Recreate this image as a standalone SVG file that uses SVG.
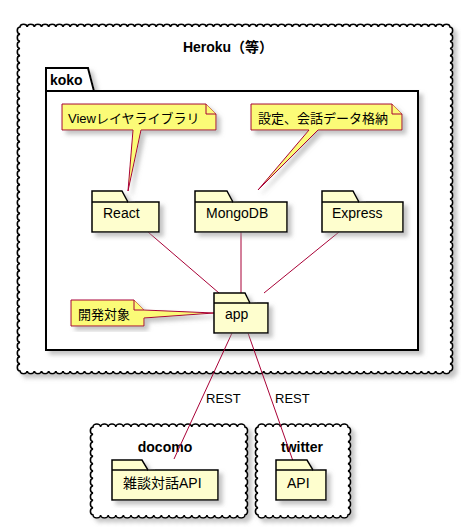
<svg xmlns="http://www.w3.org/2000/svg" width="461" height="527" viewBox="0 0 461 527">
<style>
text{font-family:"Liberation Sans","Noto Sans CJK JP",sans-serif;fill:#000}
.t{font-size:14px;font-weight:bold}
.n{font-size:14px}
.s{font-size:13px}
.cloud{fill:#fff;stroke:#000;stroke-width:1.6}
.fold{fill:#FEFECE;stroke:#000;stroke-width:1.5}
.note{fill:#FBFB77;stroke:#A80036;stroke-width:1}
.e{stroke:#A80036;stroke-width:1;fill:none}
</style>
<defs>
<filter id="sh" x="-10%" y="-10%" width="130%" height="130%">
<feGaussianBlur in="SourceAlpha" stdDeviation="2" result="b"/>
<feOffset in="b" dx="4" dy="4" result="o"/>
<feColorMatrix in="o" type="matrix" values="0 0 0 0 0.3 0 0 0 0 0.3 0 0 0 0 0.3 0 0 0 0.55 0" result="c"/>
<feMerge><feMergeNode in="c"/><feMergeNode in="SourceGraphic"/></feMerge>
</filter>
</defs>

<g id="heroku">
<path class="cloud" filter="url(#sh)" d="M20,27
a3.6 3 0 0 1 7.1667 0 3.6 3 0 0 1 7.1667 0 3.6 3 0 0 1 7.1667 0 3.6 3 0 0 1 7.1667 0 3.6 3 0 0 1 7.1667 0 3.6 3 0 0 1 7.1667 0 3.6 3 0 0 1 7.1667 0 3.6 3 0 0 1 7.1667 0 3.6 3 0 0 1 7.1667 0 3.6 3 0 0 1 7.1667 0
3.6 3 0 0 1 7.1667 0 3.6 3 0 0 1 7.1667 0 3.6 3 0 0 1 7.1667 0 3.6 3 0 0 1 7.1667 0 3.6 3 0 0 1 7.1667 0 3.6 3 0 0 1 7.1667 0 3.6 3 0 0 1 7.1667 0 3.6 3 0 0 1 7.1667 0 3.6 3 0 0 1 7.1667 0 3.6 3 0 0 1 7.1667 0
3.6 3 0 0 1 7.1667 0 3.6 3 0 0 1 7.1667 0 3.6 3 0 0 1 7.1667 0 3.6 3 0 0 1 7.1667 0 3.6 3 0 0 1 7.1667 0 3.6 3 0 0 1 7.1667 0 3.6 3 0 0 1 7.1667 0 3.6 3 0 0 1 7.1667 0 3.6 3 0 0 1 7.1667 0 3.6 3 0 0 1 7.1667 0
3.6 3 0 0 1 7.1667 0 3.6 3 0 0 1 7.1667 0 3.6 3 0 0 1 7.1667 0 3.6 3 0 0 1 7.1667 0 3.6 3 0 0 1 7.1667 0 3.6 3 0 0 1 7.1667 0 3.6 3 0 0 1 7.1667 0 3.6 3 0 0 1 7.1667 0 3.6 3 0 0 1 7.1667 0 3.6 3 0 0 1 7.1667 0
3.6 3 0 0 1 7.1667 0 3.6 3 0 0 1 7.1667 0 3.6 3 0 0 1 7.1667 0 3.6 3 0 0 1 7.1667 0 3.6 3 0 0 1 7.1667 0 3.6 3 0 0 1 7.1667 0 3.6 3 0 0 1 7.1667 0 3.6 3 0 0 1 7.1667 0 3.6 3 0 0 1 7.1667 0 3.6 3 0 0 1 7.1667 0
3.6 3 0 0 1 7.1667 0 3.6 3 0 0 1 7.1667 0 3.6 3 0 0 1 7.1667 0 3.6 3 0 0 1 7.1667 0 3.6 3 0 0 1 7.1667 0 3.6 3 0 0 1 7.1667 0 3.6 3 0 0 1 7.1667 0 3.6 3 0 0 1 7.1667 0 3.6 3 0 0 1 7.1667 0 3.6 3 0 0 1 7.1667 0
a3 3.6 0 0 1 0 7.1667 3 3.6 0 0 1 0 7.1667 3 3.6 0 0 1 0 7.1667 3 3.6 0 0 1 0 7.1667 3 3.6 0 0 1 0 7.1667 3 3.6 0 0 1 0 7.1667 3 3.6 0 0 1 0 7.1667 3 3.6 0 0 1 0 7.1667 3 3.6 0 0 1 0 7.1667 3 3.6 0 0 1 0 7.1667
3 3.6 0 0 1 0 7.1667 3 3.6 0 0 1 0 7.1667 3 3.6 0 0 1 0 7.1667 3 3.6 0 0 1 0 7.1667 3 3.6 0 0 1 0 7.1667 3 3.6 0 0 1 0 7.1667 3 3.6 0 0 1 0 7.1667 3 3.6 0 0 1 0 7.1667 3 3.6 0 0 1 0 7.1667 3 3.6 0 0 1 0 7.1667
3 3.6 0 0 1 0 7.1667 3 3.6 0 0 1 0 7.1667 3 3.6 0 0 1 0 7.1667 3 3.6 0 0 1 0 7.1667 3 3.6 0 0 1 0 7.1667 3 3.6 0 0 1 0 7.1667 3 3.6 0 0 1 0 7.1667 3 3.6 0 0 1 0 7.1667 3 3.6 0 0 1 0 7.1667 3 3.6 0 0 1 0 7.1667
3 3.6 0 0 1 0 7.1667 3 3.6 0 0 1 0 7.1667 3 3.6 0 0 1 0 7.1667 3 3.6 0 0 1 0 7.1667 3 3.6 0 0 1 0 7.1667 3 3.6 0 0 1 0 7.1667 3 3.6 0 0 1 0 7.1667 3 3.6 0 0 1 0 7.1667 3 3.6 0 0 1 0 7.1667 3 3.6 0 0 1 0 7.1667
3 3.6 0 0 1 0 7.1667 3 3.6 0 0 1 0 7.1667 3 3.6 0 0 1 0 7.1667 3 3.6 0 0 1 0 7.1667 3 3.6 0 0 1 0 7.1667 3 3.6 0 0 1 0 7.1667 3 3.6 0 0 1 0 7.1667 3 3.6 0 0 1 0 7.1667
a3.6 3 0 0 1 -7.1667 0 3.6 3 0 0 1 -7.1667 0 3.6 3 0 0 1 -7.1667 0 3.6 3 0 0 1 -7.1667 0 3.6 3 0 0 1 -7.1667 0 3.6 3 0 0 1 -7.1667 0 3.6 3 0 0 1 -7.1667 0 3.6 3 0 0 1 -7.1667 0 3.6 3 0 0 1 -7.1667 0 3.6 3 0 0 1 -7.1667 0
3.6 3 0 0 1 -7.1667 0 3.6 3 0 0 1 -7.1667 0 3.6 3 0 0 1 -7.1667 0 3.6 3 0 0 1 -7.1667 0 3.6 3 0 0 1 -7.1667 0 3.6 3 0 0 1 -7.1667 0 3.6 3 0 0 1 -7.1667 0 3.6 3 0 0 1 -7.1667 0 3.6 3 0 0 1 -7.1667 0 3.6 3 0 0 1 -7.1667 0
3.6 3 0 0 1 -7.1667 0 3.6 3 0 0 1 -7.1667 0 3.6 3 0 0 1 -7.1667 0 3.6 3 0 0 1 -7.1667 0 3.6 3 0 0 1 -7.1667 0 3.6 3 0 0 1 -7.1667 0 3.6 3 0 0 1 -7.1667 0 3.6 3 0 0 1 -7.1667 0 3.6 3 0 0 1 -7.1667 0 3.6 3 0 0 1 -7.1667 0
3.6 3 0 0 1 -7.1667 0 3.6 3 0 0 1 -7.1667 0 3.6 3 0 0 1 -7.1667 0 3.6 3 0 0 1 -7.1667 0 3.6 3 0 0 1 -7.1667 0 3.6 3 0 0 1 -7.1667 0 3.6 3 0 0 1 -7.1667 0 3.6 3 0 0 1 -7.1667 0 3.6 3 0 0 1 -7.1667 0 3.6 3 0 0 1 -7.1667 0
3.6 3 0 0 1 -7.1667 0 3.6 3 0 0 1 -7.1667 0 3.6 3 0 0 1 -7.1667 0 3.6 3 0 0 1 -7.1667 0 3.6 3 0 0 1 -7.1667 0 3.6 3 0 0 1 -7.1667 0 3.6 3 0 0 1 -7.1667 0 3.6 3 0 0 1 -7.1667 0 3.6 3 0 0 1 -7.1667 0 3.6 3 0 0 1 -7.1667 0
3.6 3 0 0 1 -7.1667 0 3.6 3 0 0 1 -7.1667 0 3.6 3 0 0 1 -7.1667 0 3.6 3 0 0 1 -7.1667 0 3.6 3 0 0 1 -7.1667 0 3.6 3 0 0 1 -7.1667 0 3.6 3 0 0 1 -7.1667 0 3.6 3 0 0 1 -7.1667 0 3.6 3 0 0 1 -7.1667 0 3.6 3 0 0 1 -7.1667 0
a3 3.6 0 0 1 0 -7.1667 3 3.6 0 0 1 0 -7.1667 3 3.6 0 0 1 0 -7.1667 3 3.6 0 0 1 0 -7.1667 3 3.6 0 0 1 0 -7.1667 3 3.6 0 0 1 0 -7.1667 3 3.6 0 0 1 0 -7.1667 3 3.6 0 0 1 0 -7.1667 3 3.6 0 0 1 0 -7.1667 3 3.6 0 0 1 0 -7.1667
3 3.6 0 0 1 0 -7.1667 3 3.6 0 0 1 0 -7.1667 3 3.6 0 0 1 0 -7.1667 3 3.6 0 0 1 0 -7.1667 3 3.6 0 0 1 0 -7.1667 3 3.6 0 0 1 0 -7.1667 3 3.6 0 0 1 0 -7.1667 3 3.6 0 0 1 0 -7.1667 3 3.6 0 0 1 0 -7.1667 3 3.6 0 0 1 0 -7.1667
3 3.6 0 0 1 0 -7.1667 3 3.6 0 0 1 0 -7.1667 3 3.6 0 0 1 0 -7.1667 3 3.6 0 0 1 0 -7.1667 3 3.6 0 0 1 0 -7.1667 3 3.6 0 0 1 0 -7.1667 3 3.6 0 0 1 0 -7.1667 3 3.6 0 0 1 0 -7.1667 3 3.6 0 0 1 0 -7.1667 3 3.6 0 0 1 0 -7.1667
3 3.6 0 0 1 0 -7.1667 3 3.6 0 0 1 0 -7.1667 3 3.6 0 0 1 0 -7.1667 3 3.6 0 0 1 0 -7.1667 3 3.6 0 0 1 0 -7.1667 3 3.6 0 0 1 0 -7.1667 3 3.6 0 0 1 0 -7.1667 3 3.6 0 0 1 0 -7.1667 3 3.6 0 0 1 0 -7.1667 3 3.6 0 0 1 0 -7.1667
3 3.6 0 0 1 0 -7.1667 3 3.6 0 0 1 0 -7.1667 3 3.6 0 0 1 0 -7.1667 3 3.6 0 0 1 0 -7.1667 3 3.6 0 0 1 0 -7.1667 3 3.6 0 0 1 0 -7.1667 3 3.6 0 0 1 0 -7.1667 3 3.6 0 0 1 0 -7.1667 Z"/>
<text class="t" x="228" y="52" text-anchor="middle">Heroku（等）</text>
</g>

<g id="koko">
<path d="M46,68 L88,68 L94,91 L418,91 L418,350 L46,350 Z" fill="#fff" stroke="#000" stroke-width="2" filter="url(#sh)"/>
<line x1="46" y1="91" x2="94" y2="91" stroke="#000" stroke-width="2"/>
<text class="t" x="50" y="85">koko</text>
</g>

<g id="docomo">
<path class="cloud" filter="url(#sh)" d="M93,427
a3.8 3 0 0 1 7.6 0 3.8 3 0 0 1 7.6 0 3.8 3 0 0 1 7.6 0 3.8 3 0 0 1 7.6 0 3.8 3 0 0 1 7.6 0 3.8 3 0 0 1 7.6 0 3.8 3 0 0 1 7.6 0 3.8 3 0 0 1 7.6 0 3.8 3 0 0 1 7.6 0 3.8 3 0 0 1 7.6 0
3.8 3 0 0 1 7.6 0 3.8 3 0 0 1 7.6 0 3.8 3 0 0 1 7.6 0 3.8 3 0 0 1 7.6 0 3.8 3 0 0 1 7.6 0 3.8 3 0 0 1 7.6 0 3.8 3 0 0 1 7.6 0 3.8 3 0 0 1 7.6 0 3.8 3 0 0 1 7.6 0 3.8 3 0 0 1 7.6 0
a3 3.7 0 0 1 0 7.3333 3 3.7 0 0 1 0 7.3333 3 3.7 0 0 1 0 7.3333 3 3.7 0 0 1 0 7.3333 3 3.7 0 0 1 0 7.3333 3 3.7 0 0 1 0 7.3333 3 3.7 0 0 1 0 7.3333 3 3.7 0 0 1 0 7.3333 3 3.7 0 0 1 0 7.3333 3 3.7 0 0 1 0 7.3333 3 3.7 0 0 1 0 7.3333 3 3.7 0 0 1 0 7.3333
a3.8 3 0 0 1 -7.6 0 3.8 3 0 0 1 -7.6 0 3.8 3 0 0 1 -7.6 0 3.8 3 0 0 1 -7.6 0 3.8 3 0 0 1 -7.6 0 3.8 3 0 0 1 -7.6 0 3.8 3 0 0 1 -7.6 0 3.8 3 0 0 1 -7.6 0 3.8 3 0 0 1 -7.6 0 3.8 3 0 0 1 -7.6 0
3.8 3 0 0 1 -7.6 0 3.8 3 0 0 1 -7.6 0 3.8 3 0 0 1 -7.6 0 3.8 3 0 0 1 -7.6 0 3.8 3 0 0 1 -7.6 0 3.8 3 0 0 1 -7.6 0 3.8 3 0 0 1 -7.6 0 3.8 3 0 0 1 -7.6 0 3.8 3 0 0 1 -7.6 0 3.8 3 0 0 1 -7.6 0
a3 3.7 0 0 1 0 -7.3333 3 3.7 0 0 1 0 -7.3333 3 3.7 0 0 1 0 -7.3333 3 3.7 0 0 1 0 -7.3333 3 3.7 0 0 1 0 -7.3333 3 3.7 0 0 1 0 -7.3333 3 3.7 0 0 1 0 -7.3333 3 3.7 0 0 1 0 -7.3333 3 3.7 0 0 1 0 -7.3333 3 3.7 0 0 1 0 -7.3333 3 3.7 0 0 1 0 -7.3333 3 3.7 0 0 1 0 -7.3333 Z"/>
<text class="t" x="165" y="452" text-anchor="middle">docomo</text>
</g>

<g id="twitter">
<path class="cloud" filter="url(#sh)" d="M258,427
a3.75 3 0 0 1 7.5 0 3.75 3 0 0 1 7.5 0 3.75 3 0 0 1 7.5 0 3.75 3 0 0 1 7.5 0 3.75 3 0 0 1 7.5 0 3.75 3 0 0 1 7.5 0 3.75 3 0 0 1 7.5 0 3.75 3 0 0 1 7.5 0 3.75 3 0 0 1 7.5 0 3.75 3 0 0 1 7.5 0 3.75 3 0 0 1 7.5 0 3.75 3 0 0 1 7.5 0
a3 3.7 0 0 1 0 7.3333 3 3.7 0 0 1 0 7.3333 3 3.7 0 0 1 0 7.3333 3 3.7 0 0 1 0 7.3333 3 3.7 0 0 1 0 7.3333 3 3.7 0 0 1 0 7.3333 3 3.7 0 0 1 0 7.3333 3 3.7 0 0 1 0 7.3333 3 3.7 0 0 1 0 7.3333 3 3.7 0 0 1 0 7.3333 3 3.7 0 0 1 0 7.3333 3 3.7 0 0 1 0 7.3333
a3.75 3 0 0 1 -7.5 0 3.75 3 0 0 1 -7.5 0 3.75 3 0 0 1 -7.5 0 3.75 3 0 0 1 -7.5 0 3.75 3 0 0 1 -7.5 0 3.75 3 0 0 1 -7.5 0 3.75 3 0 0 1 -7.5 0 3.75 3 0 0 1 -7.5 0 3.75 3 0 0 1 -7.5 0 3.75 3 0 0 1 -7.5 0 3.75 3 0 0 1 -7.5 0 3.75 3 0 0 1 -7.5 0
a3 3.7 0 0 1 0 -7.3333 3 3.7 0 0 1 0 -7.3333 3 3.7 0 0 1 0 -7.3333 3 3.7 0 0 1 0 -7.3333 3 3.7 0 0 1 0 -7.3333 3 3.7 0 0 1 0 -7.3333 3 3.7 0 0 1 0 -7.3333 3 3.7 0 0 1 0 -7.3333 3 3.7 0 0 1 0 -7.3333 3 3.7 0 0 1 0 -7.3333 3 3.7 0 0 1 0 -7.3333 3 3.7 0 0 1 0 -7.3333 Z"/>
<text class="t" x="302" y="452" text-anchor="middle">twitter</text>
</g>

<g id="note-view">
<path class="note" filter="url(#sh)" d="M62,104 L206,104 L216,114 L216,130 L141,130 L128,191 L133,130 L62,130 Z"/>
<path class="note" d="M206,104 L206,114 L216,114"/>
<text class="s" x="68" y="123">Viewレイヤライブラリ</text>
</g>

<g id="note-store">
<path class="note" filter="url(#sh)" d="M251,104 L392,104 L402,114 L402,130 L318,130 L258,190 L309,130 L251,130 Z"/>
<path class="note" d="M392,104 L392,114 L402,114"/>
<text class="s" x="258" y="123">設定、会話データ格納</text>
</g>

<g id="note-target">
<path class="note" filter="url(#sh)" d="M71,300 L134,300 L144,310 L214,313 L144,318 L144,326 L71,326 Z"/>
<path class="note" d="M134,300 L134,310 L144,310"/>
<text class="s" x="78" y="319">開発対象</text>
</g>

<g id="connectors">
<line class="e" x1="148" y1="232" x2="219" y2="293"/>
<line class="e" x1="241" y1="232" x2="241" y2="293"/>
<line class="e" x1="339" y1="232" x2="264" y2="293"/>
<line class="e" x1="232" y1="333" x2="174" y2="459"/>
<line class="e" x1="248" y1="333" x2="293" y2="461"/>
<text class="s" x="206" y="403">REST</text>
<text class="s" x="275" y="403">REST</text>
</g>

<g id="react">
<path class="fold" filter="url(#sh)" d="M92,191 L122,191 L128,202 L159,202 L159,232 L92,232 Z"/>
<line x1="92" y1="202" x2="128" y2="202" stroke="#000" stroke-width="1.5"/>
<text class="n" x="103" y="218">React</text>
</g>

<g id="mongodb">
<path class="fold" filter="url(#sh)" d="M195,191 L227,191 L233,202 L287,202 L287,232 L195,232 Z"/>
<line x1="195" y1="202" x2="233" y2="202" stroke="#000" stroke-width="1.5"/>
<text class="n" x="206" y="218">MongoDB</text>
</g>

<g id="express">
<path class="fold" filter="url(#sh)" d="M322,191 L353,191 L359,202 L403,202 L403,232 L322,232 Z"/>
<line x1="322" y1="202" x2="359" y2="202" stroke="#000" stroke-width="1.5"/>
<text class="n" x="332" y="218">Express</text>
</g>

<g id="app">
<path class="fold" filter="url(#sh)" d="M214,293 L245,293 L250,303 L268,303 L268,333 L214,333 Z"/>
<line x1="214" y1="303" x2="250" y2="303" stroke="#000" stroke-width="1.5"/>
<text class="n" x="225" y="319">app</text>
</g>

<g id="zatsudan-api">
<path class="fold" filter="url(#sh)" d="M112,460 L142,460 L148,470 L218,470 L218,500 L112,500 Z"/>
<line x1="112" y1="470" x2="148" y2="470" stroke="#000" stroke-width="1.5"/>
<text class="n" x="123" y="488">雑談対話API</text>
</g>

<g id="twitter-api">
<path class="fold" filter="url(#sh)" d="M276,460 L307,460 L313,470 L326,470 L326,500 L276,500 Z"/>
<line x1="276" y1="470" x2="313" y2="470" stroke="#000" stroke-width="1.5"/>
<text class="n" x="287" y="488">API</text>
</g>
</svg>
